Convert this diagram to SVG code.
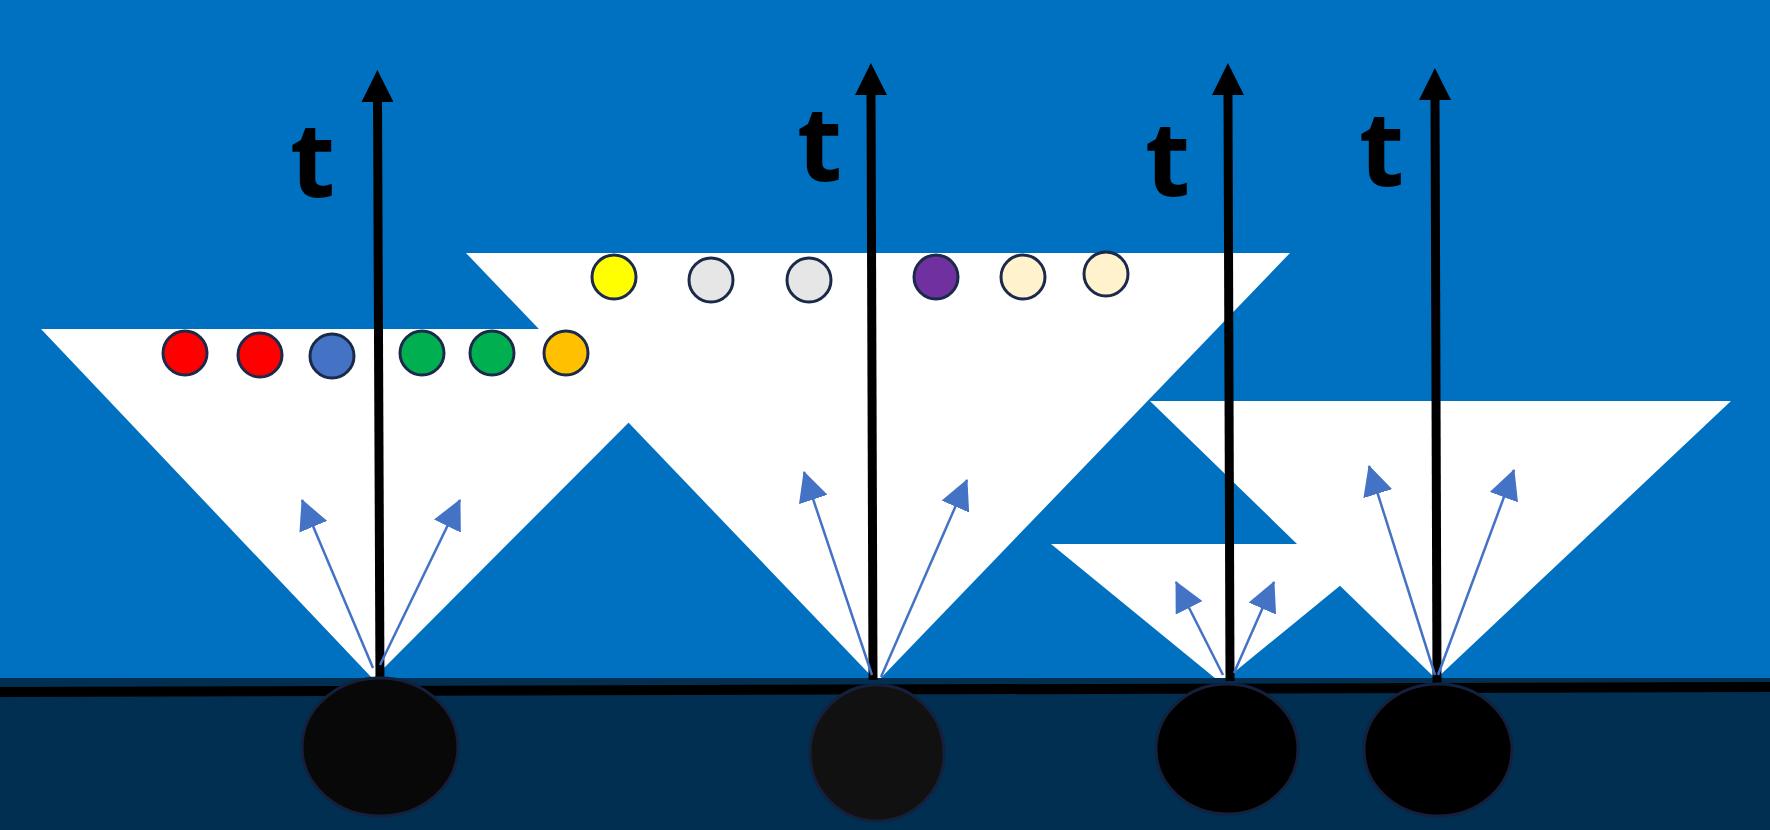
<svg xmlns="http://www.w3.org/2000/svg" width="1770" height="830" viewBox="0 0 1770 830">
  <style>
    .cone { fill: #FFFFFF; }
    .dot { stroke: #1B2A4A; stroke-width: 3; }
    .body { stroke: #14203C; stroke-width: 3; }
    .tlabel { font-family: "Open Sans", "DejaVu Sans", sans-serif; font-weight: 700; font-size: 104px; fill: #000000; }
    .axis { stroke: #000000; stroke-width: 9; fill: none; }
    .ray { stroke: #4472C4; stroke-width: 2.5; fill: none; }
  </style>
  <defs>
    <marker id="headBlack" viewBox="0 0 32 32" markerUnits="userSpaceOnUse" markerWidth="32" markerHeight="32" refX="0" refY="16" orient="auto">
      <path d="M0,0 L32,16 L0,32 Z" fill="#000000"/>
    </marker>
    <marker id="headBlue" viewBox="0 0 30 30" markerUnits="userSpaceOnUse" markerWidth="30" markerHeight="30" refX="29" refY="15" orient="auto">
      <path d="M0,0 L30,15 L0,30 Z" fill="#4472C4"/>
    </marker>
  </defs>

  <g id="background">
    <rect x="0" y="0" width="1770" height="830" fill="#0070C0"/>
  </g>

  <g id="cones">
    <polygon id="cone1" class="cone" points="41,329 722,329 373,679"/>
    <polygon id="cone2" class="cone" points="466,253 1290,253 877,682"/>
    <polygon id="cone3" class="cone" points="1150,401 1731,401 1436,679"/>
    <polygon id="cone4" class="cone" points="1051,544 1391,544 1221,683"/>
  </g>

  <g id="ground">
    <rect x="0" y="678" width="1770" height="152" fill="#002F51"/>
    <line x1="0" y1="692" x2="1770" y2="687" stroke="#000000" stroke-width="10"/>
  </g>

  <g id="particles">
    <circle id="p1" class="dot" cx="185" cy="353" r="22" fill="#FF0000"/>
    <circle id="p2" class="dot" cx="260" cy="355" r="22" fill="#FF0000"/>
    <circle id="p3" class="dot" cx="332" cy="356" r="22" fill="#4472C4"/>
    <circle id="p4" class="dot" cx="422" cy="353" r="22" fill="#00B050"/>
    <circle id="p5" class="dot" cx="492" cy="353" r="22" fill="#00B050"/>
    <circle id="p6" class="dot" cx="566" cy="353" r="22" fill="#FFC000"/>
    <circle id="p7" class="dot" cx="614" cy="277" r="22" fill="#FFFF00"/>
    <circle id="p8" class="dot" cx="711" cy="280" r="22" fill="#E7E6E6"/>
    <circle id="p9" class="dot" cx="809" cy="280" r="22" fill="#E7E6E6"/>
    <circle id="p10" class="dot" cx="936" cy="277" r="22" fill="#7030A0"/>
    <circle id="p11" class="dot" cx="1023" cy="277" r="22" fill="#FFF2CC"/>
    <circle id="p12" class="dot" cx="1106" cy="274" r="22" fill="#FFF2CC"/>
  </g>

  <g id="labels">
    <text id="t1" class="tlabel" x="290" y="197">t</text>
    <text id="t2" class="tlabel" x="797" y="181">t</text>
    <text id="t3" class="tlabel" x="1145" y="196">t</text>
    <text id="t4" class="tlabel" x="1359" y="186">t</text>
  </g>

  <g id="connectors">
    <line class="axis" x1="380" y1="685" x2="377.5" y2="102" marker-end="url(#headBlack)"/>
    <line class="axis" x1="873" y1="680" x2="871" y2="95" marker-end="url(#headBlack)"/>
    <line class="axis" x1="1230" y1="681" x2="1228" y2="95" marker-end="url(#headBlack)"/>
    <line class="axis" x1="1437" y1="683" x2="1435" y2="100" marker-end="url(#headBlack)"/>

    <line class="ray" x1="373" y1="668" x2="302" y2="500" marker-end="url(#headBlue)"/>
    <line class="ray" x1="380" y1="665" x2="460" y2="500" marker-end="url(#headBlue)"/>
    <line class="ray" x1="872" y1="675" x2="804" y2="472" marker-end="url(#headBlue)"/>
    <line class="ray" x1="881" y1="677" x2="967" y2="480" marker-end="url(#headBlue)"/>
    <line class="ray" x1="1223" y1="675" x2="1176" y2="582" marker-end="url(#headBlue)"/>
    <line class="ray" x1="1234" y1="673" x2="1274" y2="582" marker-end="url(#headBlue)"/>
    <line class="ray" x1="1435" y1="675" x2="1369" y2="466" marker-end="url(#headBlue)"/>
    <line class="ray" x1="1438" y1="675" x2="1514" y2="470" marker-end="url(#headBlue)"/>
  </g>

  <g id="sensors">
    <ellipse id="s1" class="body" cx="380" cy="747" rx="78" ry="69" fill="#080808"/>
    <ellipse id="s2" class="body" cx="877" cy="753" rx="67" ry="68" fill="#111111"/>
    <ellipse id="s3" class="body" cx="1227" cy="749" rx="71" ry="65" fill="#000000"/>
    <ellipse id="s4" class="body" cx="1438" cy="750" rx="74" ry="66" fill="#000000"/>
  </g>
</svg>
